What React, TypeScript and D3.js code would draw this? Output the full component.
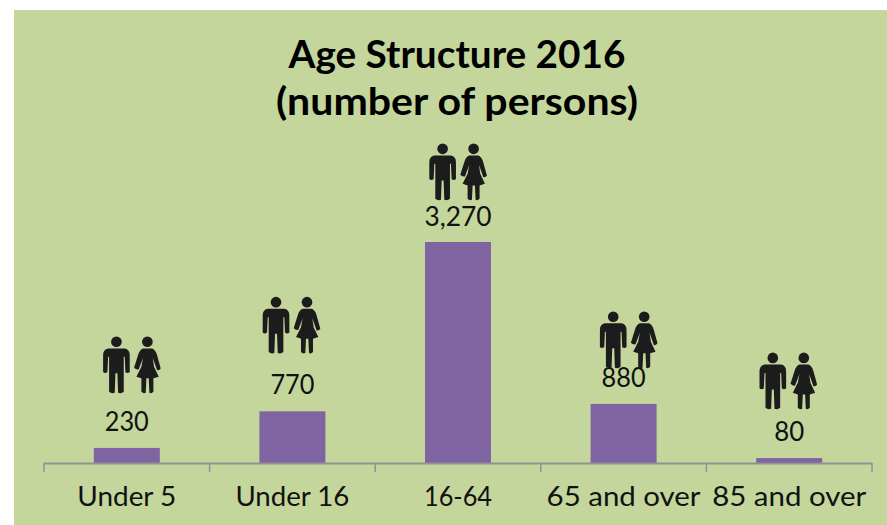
import React from "react";
import * as d3 from "d3";

const categories = ["Under 5", "Under 16", "16-64", "65 and over", "85 and over"];
const values = [230, 770, 3270, 880, 80];
const valueLabels = ["230", "770", "3,270", "880", "80"];
const titleLines = ["Age Structure 2016", "(number of persons)"];

// hand-placed annotations in the source: distance above each bar top, sideways nudge
const labelGaps = [17, 17, 16, 17, 17];
const iconGaps = [112, 115, 99, 93, 106];
const iconNudges = [5, -1, 0, 5, -1];

// rendered widths, matching the wide geometric face of the source
const titleWidths = [337, 362];
const categoryWidths = [99, 114, 68, 154, 154];
const valueWidths = [44, 44, 67, 44, 30];

const W = 887, H = 525;
const FONT = "Lato, 'Open Sans', sans-serif";

const MAN = "M100,75 L150,75 Q165,78 165,95 L165,146 Q158,152 152,146 L150,100 L147,100 L147,205 Q140,212 130,208 L128,150 L122,150 L120,208 Q110,212 103,205 L103,100 L100,100 L98,146 Q91,152 85,146 L85,95 Q85,78 100,75 Z";
const WOMAN = "M205,75 L232,75 Q242,78 247,95 L258,135 Q254,142 247,140 L234,103 L238,130 L252,160 L236,165 L236,205 Q230,212 224,208 L222,165 L215,165 L213,208 Q206,212 200,205 L200,165 L185,160 L200,130 L205,103 L192,138 Q184,140 178,133 L190,95 Q195,78 205,75 Z";

function Couple({ cx, top }: { cx: number; top: number }) {
  return (
    <g transform={`translate(${cx - 57},${top - 12.5}) scale(0.333)`} fill="#1c1c1c">
      <circle cx={125} cy={55} r={16} />
      <path d={MAN} />
      <circle cx={218} cy={55} r={16} />
      <path d={WOMAN} />
    </g>
  );
}

export default function App() {
  const x = d3.scaleBand<string>().domain(categories).range([44, 872]).paddingInner(0).paddingOuter(0);
  const y = d3.scaleLinear().domain([0, 3270]).range([463.5, 242]);
  const barW = 66;
  const ticks = [...categories.map((c) => x(c) as number), 872];

  return (
    <svg width={W} height={H} viewBox={`0 0 ${W} ${H}`} style={{ position: "absolute", left: 0, top: 0 }}>
      <rect x={0} y={0} width={W} height={H} fill="#ffffff" />
      <rect x={14} y={10} width={W - 14} height={H - 10} fill="#c4d69c" />
      <g fontFamily={FONT} fontWeight={700} fontSize={38} fill="#000" textAnchor="middle">
        {titleLines.map((t, i) => (
          <text key={t} x={457} y={68 + i * 46.5} textLength={titleWidths[i]} lengthAdjust="spacingAndGlyphs">{t}</text>
        ))}
      </g>
      {categories.map((c, i) => {
        const cx = (x(c) as number) + x.bandwidth() / 2;
        return (
          <g key={c}>
            <rect x={cx - barW / 2} y={y(values[i])} width={barW} height={y(0) - y(values[i])} fill="#8064a2" />
            <text x={cx} y={y(values[i]) - labelGaps[i]} textAnchor="middle" fontFamily={FONT} fontWeight={400} fontSize={26} fill="#111" textLength={valueWidths[i]} lengthAdjust="spacingAndGlyphs">{valueLabels[i]}</text>
            <text x={cx} y={506} textAnchor="middle" fontFamily={FONT} fontWeight={400} fontSize={26} fill="#111" textLength={categoryWidths[i]} lengthAdjust="spacingAndGlyphs">{c}</text>
            <Couple cx={cx + iconNudges[i]} top={y(values[i]) - iconGaps[i]} />
          </g>
        );
      })}
      <path d={`M44,463.5 H872`} stroke="#929292" strokeWidth={2} fill="none" />
      {ticks.map((t, i) => (
        <line key={i} x1={t} x2={t} y1={463} y2={472} stroke="#929292" strokeWidth={1.5} />
      ))}
    </svg>
  );
}
